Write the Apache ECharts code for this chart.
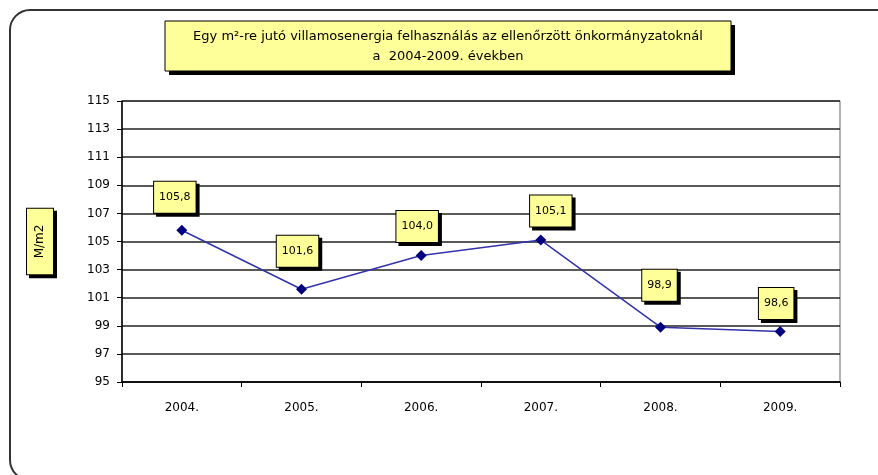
<!DOCTYPE html>
<html>
<head>
<meta charset="utf-8">
<script src="https://cdn.jsdelivr.net/npm/echarts@6/dist/echarts.min.js"></script>
<style>
  html, body { margin: 0; padding: 0; background: #fff; }
  #chart { width: 878px; height: 475px; }
</style>
</head>
<body>
<div id="chart"></div>
<script>
const years = ['2004.', '2005.', '2006.', '2007.', '2008.', '2009.'];
const values = [105.8, 101.6, 104.0, 105.1, 98.9, 98.6];
const titleLines = [
  'Egy m²-re jutó villamosenergia felhasználás az ellenőrzött önkormányzatoknál',
  'a  2004-2009. években'
];
const unitName = 'M/m2';
// hand-placed data labels, as in the original sheet
const labelShift = [[-7, -2], [-4, -7], [-4, 2], [10, 2], [-1, -11], [-4, 3]];

const font = 'DejaVu Sans';
const chart = echarts.init(document.getElementById('chart'));

const option = {
  backgroundColor: '#fff',
  animation: false,
  textStyle: { fontFamily: font },
  graphic: [
    // outer frame (right and bottom run past the picture)
    {
      type: 'rect',
      shape: { x: 10, y: 10, width: 1000, height: 470, r: 20 },
      style: { fill: 'none', stroke: '#333', lineWidth: 2 },
      z: 0
    },
    // title box shadow + box
    {
      type: 'rect',
      shape: { x: 169, y: 25, width: 566, height: 50 },
      style: { fill: '#000' },
      z: 1
    },
    {
      type: 'rect',
      shape: { x: 165, y: 21, width: 566, height: 50 },
      style: { fill: '#ffff99', stroke: '#000', lineWidth: 1 },
      z: 2
    },
    {
      type: 'text',
      x: 448, y: 47,
      style: {
        text: titleLines.join('\n'),
        fill: '#000',
        font: '13px ' + font,
        align: 'center',
        verticalAlign: 'middle',
        lineHeight: 20
      },
      z: 3
    }
  ],
  grid: {
    left: 122,
    right: 38,
    top: 101,
    bottom: 93,
    show: true,
    borderColor: '#666',
    borderWidth: 1
  },
  xAxis: {
    type: 'category',
    data: years,
    boundaryGap: true,
    axisLine: { lineStyle: { color: '#000', width: 1.5 } },
    axisTick: { show: true, length: 5, lineStyle: { color: '#000' } },
    axisLabel: { color: '#000', fontSize: 12, margin: 20, fontFamily: font }
  },
  yAxis: {
    type: 'value',
    min: 95,
    max: 115,
    interval: 2,
    name: unitName,
    nameLocation: 'middle',
    nameRotate: 90,
    nameGap: 69,
    nameTextStyle: {
      color: '#000',
      fontSize: 12,
      fontFamily: font,
      backgroundColor: '#ffff99',
      borderColor: '#000',
      borderWidth: 1,
      padding: [7, 16],
      shadowColor: '#000',
      shadowBlur: 0,
      shadowOffsetX: 3,
      shadowOffsetY: 3
    },
    axisLine: { show: true, lineStyle: { color: '#000', width: 1.5 } },
    axisTick: { show: true, length: 5, lineStyle: { color: '#000' } },
    axisLabel: { color: '#000', fontSize: 12, margin: 12, fontFamily: font },
    splitLine: { show: true, lineStyle: { color: '#222', width: 1.5 } }
  },
  series: [
    {
      type: 'line',
      data: values.map((v, i) => ({ value: v, label: { offset: labelShift[i] } })),
      symbol: 'diamond',
      symbolSize: 11,
      itemStyle: { color: '#000080' },
      lineStyle: { color: '#3333aa', width: 1.5 },
      label: {
        show: true,
        position: 'top',
        distance: 10,
        color: '#000',
        fontSize: 11,
        fontFamily: font,
        formatter: p => p.value.toFixed(1).replace('.', ','),
        backgroundColor: '#ffff99',
        borderColor: '#000',
        borderWidth: 1,
        padding: [10, 5],
        shadowColor: '#000',
        shadowBlur: 0,
        shadowOffsetX: 3,
        shadowOffsetY: 3
      }
    }
  ]
};

chart.setOption(option);
</script>
</body>
</html>
